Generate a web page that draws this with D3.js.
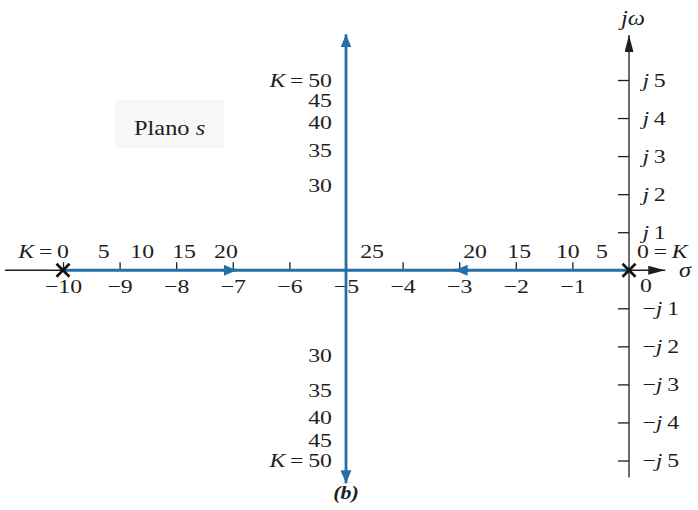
<!DOCTYPE html>
<html>
<head>
<meta charset="utf-8">
<script src="https://cdn.jsdelivr.net/npm/d3@7/dist/d3.min.js"></script>
<style>
  html, body { margin: 0; padding: 0; background: #fff; }
  svg { display: block; }
  text { font-family: "Liberation Serif", "Times New Roman", serif; fill: #1e1e1e; }
</style>
</head>
<body>
<svg id="chart" width="698" height="510"></svg>
<script>
// Root locus of G(s) = K / (s (s + 10)) in the s-plane.

// Axis ticks
const realTicks = [-10, -9, -8, -7, -6, -5, -4, -3, -2, -1];
const imagTicks = [5, 4, 3, 2, 1, -1, -2, -3, -4, -5];

// Open-loop poles
const openLoopPoles = [-10, 0];

// Vertical branch (sigma = -5) extent, in jω units
const breakawaySigma = -5;
const branchOmegaTop = 6.2;
const branchOmegaBottom = -5.6;

// Direction arrows on the real-axis branches
const arrowSigmaLeft = -6.93;
const arrowSigmaRight = -3.08;

// Gain labels along the real axis (left branch, right branch)
const gainLeft = [5, 10, 15, 20];
const gainLeftSigma = [-9.28, -8.6, -7.86, -7.12];
const gainRight = [25, 20, 15, 10, 5];
const gainRightSigma = [-4.54, -2.72, -1.94, -1.08, -0.48];

// Gain labels along the vertical branches (mirrored above / below)
const gainVertical = [30, 35, 40, 45, 50];
const gainVerticalOmega = [2.24, 3.16, 3.87, 4.47, 5.0];

const blue = "#236fa8";
const ink = "#1e1e1e";
const SX = 1.22;   // horizontal stretch of the lettering
const FS = 19.5;   // base font size

const svg = d3.select("#chart");

const x = d3.scaleLinear().domain([-10, 0]).range([63, 629]);
const y = d3.scaleLinear().domain([-5, 5]).range([460.5, 80]);

const x0 = x(0), y0 = y(0);

// Label box
svg.append("rect")
  .attr("x", 115).attr("y", 100).attr("width", 109).attr("height", 48)
  .attr("fill", "#f7f7f7");
const plano = svg.append("text")
  .attr("transform", `translate(134,135) scale(${SX},1)`)
  .attr("font-size", 20);
plano.append("tspan").text("Plano ");
plano.append("tspan").attr("font-style", "italic").text("s");

// Arrowhead markers
const defs = svg.append("defs");
function marker(id, color, w, h) {
  defs.append("marker")
    .attr("id", id)
    .attr("viewBox", `0 0 ${w} ${h}`)
    .attr("refX", w).attr("refY", h / 2)
    .attr("markerWidth", w).attr("markerHeight", h)
    .attr("markerUnits", "userSpaceOnUse")
    .attr("orient", "auto")
    .append("path")
    .attr("d", `M0,0L${w},${h / 2}L0,${h}Z`)
    .attr("fill", color);
}
marker("arrowBlack", ink, 17, 9);
marker("arrowBlue", blue, 13, 11);

// Real axis (σ)
svg.append("line")
  .attr("x1", 5).attr("x2", x(0.64))
  .attr("y1", y0).attr("y2", y0)
  .attr("stroke", ink).attr("stroke-width", 1.3)
  .attr("marker-end", "url(#arrowBlack)");

// Imaginary axis (jω)
svg.append("line")
  .attr("x1", x0).attr("x2", x0)
  .attr("y1", y(-5.45)).attr("y2", y(6.18))
  .attr("stroke", ink).attr("stroke-width", 1.3)
  .attr("marker-end", "url(#arrowBlack)");

// Real axis ticks (drawn upward) with labels below
const xAxis = d3.axisBottom(x)
  .tickValues(realTicks)
  .tickSize(-8)
  .tickPadding(9)
  .tickFormat(d3.format("d"));
const gx = svg.append("g")
  .attr("transform", `translate(0,${y0})`)
  .call(xAxis);
gx.select(".domain").remove();
gx.selectAll(".tick line").attr("stroke", ink).attr("stroke-width", 1.3);
gx.selectAll(".tick text")
  .attr("font-family", "Liberation Serif")
  .attr("font-size", FS)
  .attr("fill", ink)
  .attr("transform", `scale(${SX},1)`);

// Imaginary axis ticks (drawn to the left) with labels to the right
const yAxis = d3.axisRight(y)
  .tickValues(imagTicks)
  .tickSize(-11)
  .tickPadding(11);
const gy = svg.append("g")
  .attr("transform", `translate(${x0},0)`)
  .call(yAxis);
gy.select(".domain").remove();
gy.selectAll(".tick line").attr("stroke", ink).attr("stroke-width", 1.3);
gy.selectAll(".tick text")
  .attr("font-family", "Liberation Serif")
  .attr("font-size", FS)
  .attr("fill", ink)
  .attr("transform", `scale(${SX},1)`)
  .each(function(d) {
    const t = d3.select(this).text("");
    if (d < 0) t.append("tspan").text("\u2212");
    t.append("tspan").attr("font-style", "italic").text("j");
    t.append("tspan").text("\u2009" + Math.abs(d));
  });

// Root locus: real-axis segment between the poles
svg.append("line")
  .attr("x1", x(openLoopPoles[0])).attr("x2", x(openLoopPoles[1]))
  .attr("y1", y0).attr("y2", y0)
  .attr("stroke", blue).attr("stroke-width", 2.8);

// Direction arrows toward the breakaway point
[[arrowSigmaLeft, 1], [arrowSigmaRight, -1]].forEach(([s, dir]) => {
  svg.append("line")
    .attr("x1", x(s) - dir * 14).attr("x2", x(s))
    .attr("y1", y0).attr("y2", y0)
    .attr("stroke", blue).attr("stroke-width", 2.8)
    .attr("marker-end", "url(#arrowBlue)");
});

// Vertical branches from the breakaway point
svg.append("line")
  .attr("x1", x(breakawaySigma)).attr("x2", x(breakawaySigma))
  .attr("y1", y0).attr("y2", y(branchOmegaTop))
  .attr("stroke", blue).attr("stroke-width", 2.8)
  .attr("marker-end", "url(#arrowBlue)");
svg.append("line")
  .attr("x1", x(breakawaySigma)).attr("x2", x(breakawaySigma))
  .attr("y1", y0).attr("y2", y(branchOmegaBottom))
  .attr("stroke", blue).attr("stroke-width", 2.8)
  .attr("marker-end", "url(#arrowBlue)");

// Open-loop poles
openLoopPoles.forEach(p => {
  const cx = x(p), r = 6.5;
  svg.append("path")
    .attr("d", `M${cx - r},${y0 - r}L${cx + r},${y0 + r}M${cx - r},${y0 + r}L${cx + r},${y0 - r}`)
    .attr("stroke", "#111").attr("stroke-width", 2.6);
});

// Helper: stretched text with optional italic parts
function label(px, py, parts, anchor, size) {
  const t = svg.append("text")
    .attr("transform", `translate(${px},${py}) scale(${SX},1)`)
    .attr("text-anchor", anchor)
    .attr("font-size", size || FS);
  parts.forEach(([s, it]) => {
    const sp = t.append("tspan").text(s);
    if (it) sp.attr("font-style", "italic");
  });
  return t;
}

const gainBaseline = 258;

// Gain labels on the real axis
label(x(openLoopPoles[0]) + 6, gainBaseline, [["K", true], ["\u2009=\u20090", false]], "end");
gainLeft.forEach((k, i) => label(x(gainLeftSigma[i]), gainBaseline, [[String(k), false]], "middle"));
gainRight.forEach((k, i) => label(x(gainRightSigma[i]), gainBaseline, [[String(k), false]], "middle"));
label(x(0) + 8, gainBaseline, [["0\u2009=\u2009", false], ["K", true]], "start");

// Gain labels on the vertical branches
gainVertical.forEach((k, i) => {
  const px = x(breakawaySigma) - 14;
  const parts = k === 50 ? [["K", true], ["\u2009=\u2009" + k, false]] : [[String(k), false]];
  label(px, y(gainVerticalOmega[i]) + 6.5, parts, "end");
  label(px, y(-gainVerticalOmega[i]) + 6.5, parts, "end");
});

// Origin label and axis names
label(x0 + 11, 292, [["0", false]], "start");
label(679, 277, [["\u03c3", true]], "start", 20);
label(633, 25, [["j\u03c9", true]], "middle", 20);

// Caption
svg.append("text")
  .attr("transform", `translate(${x(breakawaySigma)},499) scale(${SX},1)`)
  .attr("text-anchor", "middle")
  .attr("font-size", 18)
  .attr("font-weight", "bold")
  .attr("font-style", "italic")
  .text("(b)");
</script>
</body>
</html>
